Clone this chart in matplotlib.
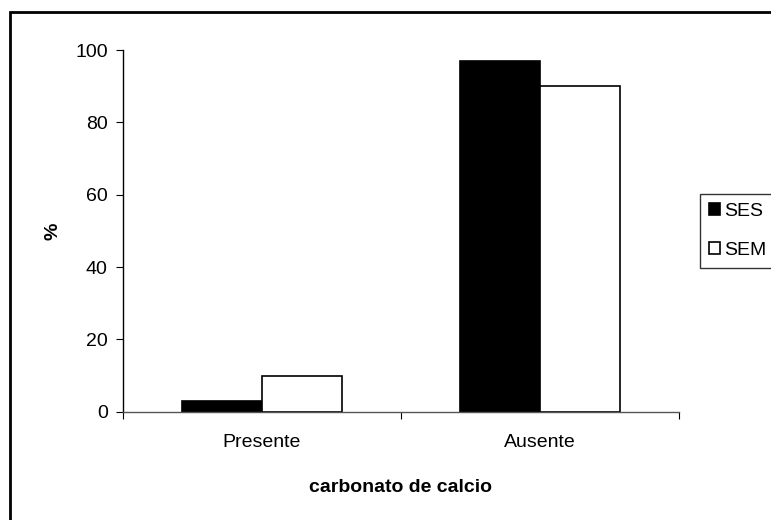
import matplotlib.pyplot as plt
import matplotlib.patches as mpatches
import numpy as np

plt.rcParams['font.family'] = ['Liberation Sans', 'DejaVu Sans']

# data
categories = ["Presente", "Ausente"]
ses = [3, 97]
sem = [10, 90]
series_names = ["SES", "SEM"]

fig = plt.figure(figsize=(7.71, 5.2), dpi=100)
ax = fig.add_axes([0.1595, 0.2083, 0.7212, 0.6955])

x = np.arange(len(categories))
w = 0.288
ax.bar(x - w / 2, ses, w, color="black", edgecolor="black", linewidth=1.2, label=series_names[0])
ax.bar(x + w / 2, sem, w, color="white", edgecolor="black", linewidth=1.2, label=series_names[1])

ax.set_xlim(-0.5, 1.5)
ax.set_ylim(0, 100)
ax.set_yticks([0, 20, 40, 60, 80, 100])
ax.set_xticks([-0.5, 0.5, 1.5])
ax.set_xticklabels([])
ax.set_xticks(x, minor=True)
ax.set_xticklabels(categories, minor=True, fontsize=14)
ax.tick_params(axis="x", which="minor", length=0, pad=16)
ax.tick_params(axis="x", which="major", length=5, direction="out", color="black")
ax.tick_params(axis="y", length=5, direction="out", labelsize=14, pad=6)

for s in ["top", "right"]:
    ax.spines[s].set_visible(False)
ax.spines["left"].set_linewidth(1.0)
ax.spines["bottom"].set_linewidth(1.0)
ax.spines["bottom"].set_color("#555555")

ax.set_ylabel("%", fontsize=14, fontweight="bold", labelpad=10)
ax.set_xlabel("carbonato de calcio", fontsize=14, fontweight="bold", labelpad=20)

leg = fig.legend(loc="upper left", bbox_to_anchor=(700 / 771, 1 - 194 / 520),
                 fontsize=14, frameon=True, fancybox=False, edgecolor="black",
                 handlelength=0.6, handleheight=0.6, handletextpad=0.2,
                 labelspacing=1.15, borderpad=0.45, borderaxespad=0)
leg.get_frame().set_linewidth(1.0)

# outer border of the chart area
border = mpatches.Rectangle((10 / 771, -0.1), 1.2, 1 - 12 / 520 + 0.1,
                            transform=fig.transFigure, fill=False,
                            edgecolor="black", linewidth=2.0)
fig.patches.append(border)

fig.savefig("out.png", dpi=100)
